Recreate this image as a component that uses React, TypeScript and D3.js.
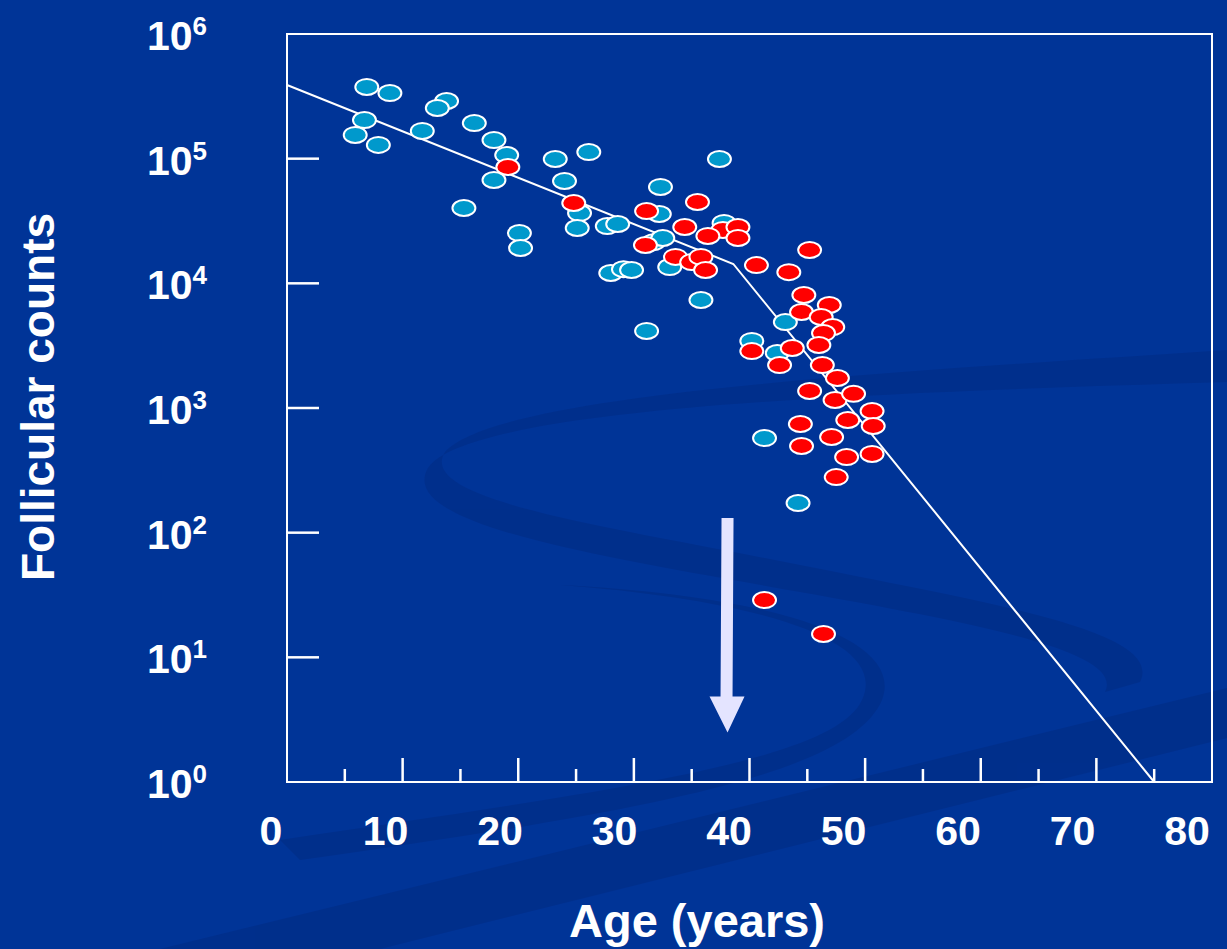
import React from 'react';
import * as d3 from 'd3';

// ages (years) and follicle counts
const blueAges = [6.9, 8.9, 13.8, 13.0, 6.7, 5.9, 7.9, 11.7, 16.2, 17.9, 19.0, 17.9, 15.3, 20.1, 20.2, 23.2, 26.1, 24.0, 25.3, 25.1, 37.4, 32.3, 32.2, 27.7, 28.6, 37.8, 31.7, 32.5, 33.1, 28.0, 29.1, 29.8, 35.8, 31.1, 43.1, 40.2, 42.4, 41.3, 44.2];
const blueCounts = [376000, 336000, 290000, 255000, 204000, 155000, 129000, 167000, 193000, 141000, 107000, 67400, 40200, 25300, 19200, 99400, 113000, 66200, 36600, 27800, 99400, 59300, 36000, 28800, 29900, 30500, 21400, 23100, 13500, 12100, 13000, 12800, 7350, 4150, 4890, 3450, 2760, 574, 173];

const redAges = [19.1, 24.8, 35.5, 31.1, 34.4, 37.7, 39.0, 36.4, 39.0, 31.0, 33.6, 35.0, 35.8, 36.2, 40.6, 43.4, 45.2, 44.7, 46.9, 44.5, 46.2, 47.2, 46.4, 46.0, 40.2, 43.7, 42.6, 46.3, 47.6, 45.2, 47.4, 49.0, 50.6, 48.5, 50.7, 44.4, 47.1, 44.5, 48.4, 50.6, 47.5, 41.3, 46.4];
const redCounts = [85700, 44100, 44900, 38000, 28300, 26800, 28300, 24000, 23100, 20300, 16300, 14800, 16300, 12800, 14000, 12300, 18500, 8060, 6700, 5890, 5370, 4460, 3990, 3200, 2860, 3030, 2210, 2210, 1740, 1370, 1160, 1300, 946, 801, 717, 744, 585, 496, 404, 428, 279, 28.8, 15.4];

// fitted decline (two-phase) line
const fitAges = [0, 38.6, 75];
const fitCounts = [390000, 14300, 1];

const ageLabels = [0, 10, 20, 30, 40, 50, 60, 70, 80];
const majorAgeTicks = [10, 20, 30, 40, 50, 60, 70];
const minorAgeTicks = [5, 15, 25, 35, 45, 55, 65, 75];
const countExponents = [0, 1, 2, 3, 4, 5, 6];

// arrow marking the age ~38 drop
const arrowAge = 38.1;
const arrowFrom = 131;
const arrowTo = 2.5;

const W = 1227;
const H = 949;
const font = '"Liberation Sans", Arial, sans-serif';

export default function App() {
  const x = d3.scaleLinear().domain([0, 80]).range([287, 1212]);
  const labelX = d3.scaleLinear().domain([0, 80]).range([271, 1187]);
  const y = d3.scaleLog().domain([1, 1e6]).range([782, 34]);

  const fitLine = d3.line<number>()
    .x((d, i) => x(fitAges[i]))
    .y(d => y(d));

  const ax = x(arrowAge);
  const ay0 = y(arrowFrom);
  const ay1 = y(arrowTo);

  return (
    <svg width={W} height={H} style={{ position: 'absolute', left: 0, top: 0, display: 'block' }}>
      <rect width={W} height={H} fill="#003497" />
      {/* background swooshes of the slide template */}
      <g fill="#002a7e" opacity={0.45}>
        <path d="M1227,350 C900,372 500,392 445,452 C415,500 600,525 800,565 C1000,605 1165,632 1140,682 L1105,692 C1125,652 985,625 800,592 C600,556 395,525 428,468 C470,405 900,392 1227,382 Z" />
        <path d="M560,585 C760,600 890,640 862,700 C835,760 620,790 280,840 L300,860 C640,812 850,775 882,700 C905,640 780,596 560,585 Z" />
        <path d="M160,949 L1227,688 L1227,738 L380,949 Z" />
      </g>

      {/* plot frame */}
      <rect x={287} y={34} width={925} height={748} fill="none" stroke="#ffffff" strokeWidth={2} />

      {/* y ticks */}
      {countExponents.slice(1, 6).map(e => (
        <line key={e} x1={287} x2={319} y1={y(10 ** e)} y2={y(10 ** e)} stroke="#fff" strokeWidth={2.5} />
      ))}
      {/* x ticks */}
      {majorAgeTicks.map(a => (
        <line key={'M' + a} x1={x(a)} x2={x(a)} y1={782} y2={758} stroke="#fff" strokeWidth={2.5} />
      ))}
      {minorAgeTicks.map(a => (
        <line key={'m' + a} x1={x(a)} x2={x(a)} y1={782} y2={769} stroke="#fff" strokeWidth={2.5} />
      ))}

      {/* y tick labels */}
      {countExponents.map(e => (
        <text key={e} x={147} y={y(10 ** e) + 16} fill="#fff" fontFamily={font} fontWeight="bold" fontSize={41}>
          10<tspan fontSize={26} dy={-15}>{e}</tspan>
        </text>
      ))}
      {/* x tick labels */}
      {ageLabels.map(a => (
        <text key={a} x={labelX(a)} y={845} fill="#fff" fontFamily={font} fontWeight="bold" fontSize={41} textAnchor="middle">
          {a}
        </text>
      ))}

      <text x={697} y={937} fill="#fff" fontFamily={font} fontWeight="bold" fontSize={47} textAnchor="middle">Age (years)</text>
      <text transform="translate(54,397) rotate(-90)" fill="#fff" fontFamily={font} fontWeight="bold" fontSize={46} textAnchor="middle">Follicular counts</text>

      {/* fit line */}
      <path d={fitLine(fitCounts) || ''} fill="none" stroke="#fff" strokeWidth={2} />

      {/* arrow */}
      <path
        d={`M${ax - 6},${ay0} L${ax + 6},${ay0} L${ax + 5},${ay1 - 36} L${ax + 17},${ay1 - 36} L${ax},${ay1} L${ax - 18},${ay1 - 36} L${ax - 7},${ay1 - 36} Z`}
        fill="#e4e4ff"
      />

      {/* points */}
      {blueAges.map((a, i) => (
        <ellipse key={'b' + i} cx={x(a)} cy={y(blueCounts[i])} rx={11.5} ry={8} fill="#0099cc" stroke="#fff" strokeWidth={2} />
      ))}
      {redAges.map((a, i) => (
        <ellipse key={'r' + i} cx={x(a)} cy={y(redCounts[i])} rx={11.5} ry={8} fill="#ff0000" stroke="#fff" strokeWidth={2} />
      ))}
    </svg>
  );
}
